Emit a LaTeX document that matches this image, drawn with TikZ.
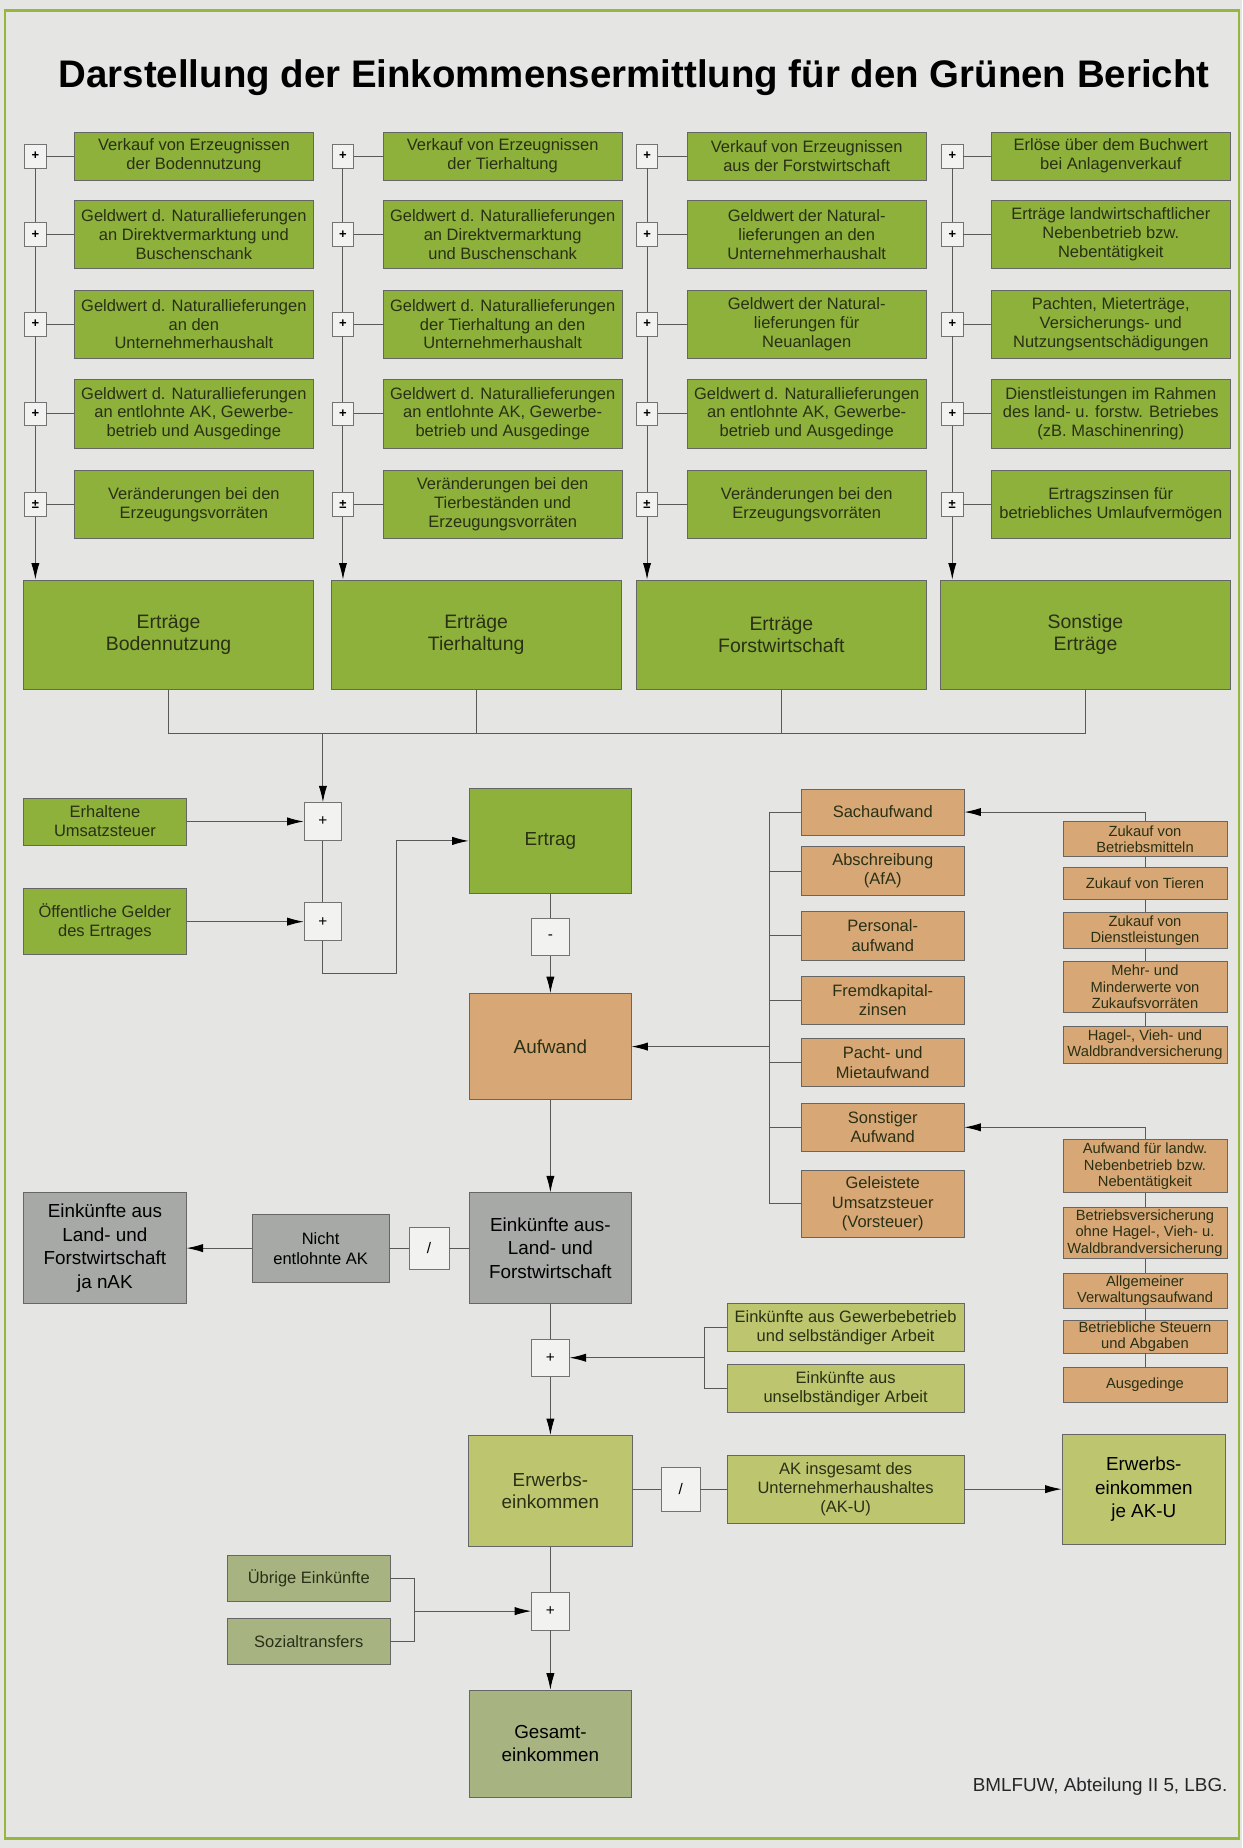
\documentclass[tikz,border=0pt]{standalone}
\usepackage{fontspec}
\setmainfont{Liberation Sans}
\usetikzlibrary{arrows.meta,positioning}

\definecolor{hintergrund}{RGB}{229,229,227}
\definecolor{rahmengruen}{RGB}{150,182,62}
\definecolor{ertraggruen}{RGB}{141,177,58}
\definecolor{aufwandbraun}{RGB}{215,168,118}
\definecolor{lufgrau}{RGB}{166,169,166}
\definecolor{hellolive}{RGB}{189,198,110}
\definecolor{salbei}{RGB}{167,180,130}
\definecolor{opfeld}{RGB}{242,242,240}
\definecolor{kastentext}{RGB}{42,48,22}

\tikzset{
  linie/.style={draw=black!65, line width=0.8pt},
  pfeil/.style={linie, -{Latex[length=14pt,width=7pt,black]}},
  kasten/.style={draw=black!60, line width=0.6pt, align=center, inner sep=1pt, text=kastentext},
  posten/.style={kasten, fill=ertraggruen, minimum width=203pt, minimum height=58pt,
    font=\fontsize{14}{16}\selectfont},
  summe/.style={kasten, fill=ertraggruen, minimum width=246pt, minimum height=93pt,
    font=\fontsize{16.5}{19}\selectfont},
  gruenbox/.style={kasten, fill=ertraggruen, minimum width=138pt,
    font=\fontsize{14}{16}\selectfont},
  braunbox/.style={kasten, fill=aufwandbraun, minimum width=138pt,
    font=\fontsize{14}{16.5}\selectfont},
  kleinbraun/.style={kasten, fill=aufwandbraun, minimum width=139pt,
    font=\fontsize{12.5}{14}\selectfont},
  graubox/.style={kasten, fill=lufgrau, text=black, font=\fontsize{16}{20}\selectfont},
  olivbox/.style={kasten, fill=hellolive, font=\fontsize{14}{16}\selectfont},
  salbeibox/.style={kasten, fill=salbei, font=\fontsize{14}{16}\selectfont},
  opklein/.style={draw=black!55, line width=0.6pt, fill=opfeld, inner sep=0pt,
    minimum width=18pt, minimum height=20pt, font=\fontsize{11}{11}\bfseries},
  opgross/.style={draw=black!55, line width=0.6pt, fill=opfeld, inner sep=0pt,
    minimum width=32pt, minimum height=32pt, font=\fontsize{13}{13}\selectfont}
}

\begin{document}
\begin{tikzpicture}[x=1pt,y=-1pt]
  \useasboundingbox (0,0) rectangle (1054,1568);
  \fill[hintergrund] (0,0) rectangle (1054,1568);
  \draw[rahmengruen, line width=2pt] (4,9) rectangle (1051,1560);

  \node[font=\fontsize{32.6}{36}\bfseries] (titel) at (538,66)
    {Darstellung der Einkommensermittlung für den Grünen Bericht};

  % Ertragsposten
  \node[posten, minimum height=41pt] (b11) at (164.5,132.5) {Verkauf von Erzeugnissen\\der Bodennutzung};
  \node[posten] (b12) at (164.5,199) {Geldwert d. Naturallieferungen\\an Direktvermarktung und\\Buschenschank};
  \node[posten] (b13) at (164.5,275) {Geldwert d. Naturallieferungen\\an den\\Unternehmerhaushalt};
  \node[posten] (b14) at (164.5,351) {Geldwert d. Naturallieferungen\\an entlohnte AK, Gewerbe-\\betrieb und Ausgedinge};
  \node[posten] (b15) at (164.5,428) {Veränderungen bei den\\Erzeugungsvorräten};

  \node[posten, minimum height=41pt] (b21) at (426.5,132.5) {Verkauf von Erzeugnissen\\der Tierhaltung};
  \node[posten] (b22) at (426.5,199) {Geldwert d. Naturallieferungen\\an Direktvermarktung\\und Buschenschank};
  \node[posten] (b23) at (426.5,275) {Geldwert d. Naturallieferungen\\der Tierhaltung an den\\Unternehmerhaushalt};
  \node[posten] (b24) at (426.5,351) {Geldwert d. Naturallieferungen\\an entlohnte AK, Gewerbe-\\betrieb und Ausgedinge};
  \node[posten] (b25) at (426.5,428) {Veränderungen bei den\\Tierbeständen und\\Erzeugungsvorräten};

  \node[posten, minimum height=41pt] (b31) at (684.5,132.5) {Verkauf von Erzeugnissen\\aus der Forstwirtschaft};
  \node[posten] (b32) at (684.5,199) {Geldwert der Natural-\\lieferungen an den\\Unternehmerhaushalt};
  \node[posten] (b33) at (684.5,275) {Geldwert der Natural-\\lieferungen für\\Neuanlagen};
  \node[posten] (b34) at (684.5,351) {Geldwert d. Naturallieferungen\\an entlohnte AK, Gewerbe-\\betrieb und Ausgedinge};
  \node[posten] (b35) at (684.5,428) {Veränderungen bei den\\Erzeugungsvorräten};

  \node[posten, minimum height=41pt] (b41) at (942.5,132.5) {Erlöse über dem Buchwert\\bei  Anlagenverkauf};
  \node[posten] (b42) at (942.5,199) {Erträge landwirtschaftlicher\\Nebenbetrieb bzw.\\Nebentätigkeit};
  \node[posten] (b43) at (942.5,275) {Pachten, Mieterträge,\\Versicherungs- und\\Nutzungsentschädigungen};
  \node[posten] (b44) at (942.5,351) {Dienstleistungen im Rahmen\\des land- u. forstw. Betriebes\\(zB. Maschinenring)};
  \node[posten] (b45) at (942.5,428) {Ertragszinsen für\\betriebliches Umlaufvermögen};

  \node[summe] (e1) at (143,538.5) {Erträge\\Bodennutzung};
  \node[summe] (e2) at (404,538.5) {Erträge\\Tierhaltung};
  \node[summe] (e3) at (663,538.5) {Erträge\\Forstwirtschaft};
  \node[summe] (e4) at (921,538.5) {Sonstige\\Erträge};

  \foreach \c/\x in {1/30,2/291,3/549,4/808}
    \foreach \r/\y/\s in {1/132.5/+,2/199/+,3/275/+,4/351/+,5/428/±}
      \node[opklein] (p\c\r) at (\x,\y) {\s};

  \foreach \c in {1,...,4}{
    \foreach \r in {1,...,5} \draw[linie] (p\c\r) -- (b\c\r);
    \foreach \r/\s in {1/2,2/3,3/4,4/5} \draw[linie] (p\c\r) -- (p\c\s);
    \draw[pfeil] (p\c5) -- (p\c5 |- e\c.north);
  }

  % Ertrag
  \coordinate (sammel) at (274,622);
  \node[opgross] (pa) at (274,697) {+};
  \node[opgross] (pb) at (274,782) {+};
  \node[gruenbox, minimum height=40pt] (ust) at (89,697) {Erhaltene\\Umsatzsteuer};
  \node[gruenbox, minimum height=56pt] (oeg) at (89,782) {Öffentliche Gelder\\des Ertrages};
  \node[gruenbox, minimum height=89pt, font=\fontsize{16}{19}\selectfont] (ertrag) at (467,713.5) {Ertrag};
  \node[opgross] (minus) at (467,795) {-};
  \coordinate (knick) at (336,826);

  \draw[linie] (e1.south) -- (e1.south |- sammel) -- (e4.south |- sammel) -- (e4.south);
  \draw[linie] (e2.south) -- (e2.south |- sammel);
  \draw[linie] (e3.south) -- (e3.south |- sammel);
  \draw[pfeil] (sammel) -- (pa.north);
  \draw[pfeil] (ust) -- (pa);
  \draw[pfeil] (oeg) -- (pb);
  \draw[linie] (pa) -- (pb);
  \draw[pfeil] (pb.south) |- (knick) |- (ertrag.west);
  \draw[linie] (ertrag) -- (minus);

  % Aufwand
  \node[braunbox, minimum width=137pt, minimum height=90pt, font=\fontsize{16}{19}\selectfont] (aufwand) at (467,888) {Aufwand};
  \node[braunbox, minimum height=39pt] (sach) at (749,689) {Sachaufwand};
  \node[braunbox, minimum height=42pt] (afa) at (749,739) {Abschreibung\\(AfA)};
  \node[braunbox, minimum height=42pt] (pers) at (749,794) {Personal-\\aufwand};
  \node[braunbox, minimum height=41pt] (fremd) at (749,848.5) {Fremdkapital-\\zinsen};
  \node[braunbox, minimum height=41pt] (pacht) at (749,901.5) {Pacht- und\\Mietaufwand};
  \node[braunbox, minimum height=41pt] (sonst) at (749,956.5) {Sonstiger\\Aufwand};
  \node[braunbox, minimum height=57pt] (vorst) at (749,1021.5) {Geleistete\\Umsatzsteuer\\(Vorsteuer)};
  \coordinate (aklammer) at (653,888);

  \node[kleinbraun, minimum height=30pt] (z1) at (971.5,712) {Zukauf von\\Betriebsmitteln};
  \node[kleinbraun, minimum height=27pt] (z2) at (971.5,749.5) {Zukauf von Tieren};
  \node[kleinbraun, minimum height=31pt] (z3) at (971.5,789.5) {Zukauf von\\Dienstleistungen};
  \node[kleinbraun, minimum height=43pt] (z4) at (971.5,837.5) {Mehr- und\\Minderwerte von\\Zukaufsvorräten};
  \node[kleinbraun, minimum height=31pt] (z5) at (971.5,886.5) {Hagel-, Vieh- und\\Waldbrandversicherung};
  \coordinate (zklammer) at (971.5,689);

  \node[kleinbraun, minimum height=45pt] (n1) at (971.5,989.5) {Aufwand für landw.\\Nebenbetrieb bzw.\\Nebentätigkeit};
  \node[kleinbraun, minimum height=44pt] (n2) at (971.5,1046) {Betriebsversicherung\\ohne Hagel-, Vieh- u.\\Waldbrandversicherung};
  \node[kleinbraun, minimum height=30pt] (n3) at (971.5,1095) {Allgemeiner\\Verwaltungsaufwand};
  \node[kleinbraun, minimum height=28pt] (n4) at (971.5,1134) {Betriebliche Steuern\\und Abgaben};
  \node[kleinbraun, minimum height=30pt] (n5) at (971.5,1175) {Ausgedinge};
  \coordinate (nklammer) at (971.5,956.5);

  \draw[pfeil] (minus) -- (aufwand);
  \draw[linie] (sach.west) -- (sach.west -| aklammer) -- (vorst.west -| aklammer) -- (vorst.west);
  \foreach \k in {afa,pers,fremd,pacht,sonst}
    \draw[linie] (\k.west) -- (\k.west -| aklammer);
  \draw[pfeil] (aklammer) -- (aufwand.east);
  \draw[linie] (z1.north) -- (zklammer);
  \draw[pfeil] (zklammer) -- (sach.east);
  \foreach \a/\b in {z1/z2,z2/z3,z3/z4,z4/z5,n1/n2,n2/n3,n3/n4,n4/n5}
    \draw[linie] (\a) -- (\b);
  \draw[linie] (n1.north) -- (nklammer);
  \draw[pfeil] (nklammer) -- (sonst.east);

  % Einkuenfte
  \node[graubox, minimum width=138pt, minimum height=94pt] (luf) at (467,1059) {Einkünfte aus-\\Land- und\\Forstwirtschaft};
  \node[opgross, minimum width=34pt, minimum height=36pt] (div1) at (364,1059) {/};
  \node[graubox, minimum width=116pt, minimum height=58pt, font=\fontsize{14}{17}\selectfont] (nak) at (272,1059) {Nicht\\entlohnte AK};
  \node[graubox, minimum width=138pt, minimum height=94pt] (lufnak) at (89,1059) {Einkünfte aus\\Land- und\\Forstwirtschaft\\ja nAK};
  \node[opgross] (pc) at (467,1152) {+};
  \node[olivbox, minimum width=201pt, minimum height=41pt] (gew) at (717.5,1126.5) {Einkünfte aus Gewerbebetrieb\\und selbständiger Arbeit};
  \node[olivbox, minimum width=201pt, minimum height=40pt] (unselb) at (717.5,1178) {Einkünfte aus\\unselbständiger Arbeit};
  \coordinate (eklammer) at (598,1152);

  \draw[pfeil] (aufwand) -- (luf);
  \draw[linie] (luf) -- (div1);
  \draw[linie] (div1) -- (nak);
  \draw[pfeil] (nak) -- (lufnak);
  \draw[linie] (luf) -- (pc);
  \draw[linie] (gew.west) -- (gew.west -| eklammer) -- (unselb.west -| eklammer) -- (unselb.west);
  \draw[pfeil] (eklammer) -- (pc.east);

  % Erwerbseinkommen
  \node[olivbox, minimum width=139pt, minimum height=94pt, font=\fontsize{16}{19}\selectfont] (erw) at (467,1265) {Erwerbs-\\einkommen};
  \node[opgross, minimum width=33pt, minimum height=37pt] (div2) at (577.5,1263.5) {/};
  \node[olivbox, minimum width=201pt, minimum height=58pt] (aku) at (717.5,1263.5) {AK insgesamt des\\Unternehmerhaushaltes\\(AK-U)};
  \node[olivbox, minimum width=139pt, minimum height=93pt, text=black, font=\fontsize{16}{20}\selectfont] (erwaku) at (970.5,1263.5) {Erwerbs-\\einkommen\\je AK-U};

  \draw[pfeil] (pc) -- (erw);
  \draw[linie] (erw.east |- div2) -- (div2);
  \draw[linie] (div2) -- (aku);
  \draw[pfeil] (aku) -- (erwaku);

  % Gesamteinkommen
  \node[opgross] (pd) at (467,1367) {+};
  \node[salbeibox, minimum width=138pt, minimum height=39pt] (uebrig) at (262,1339.5) {Übrige Einkünfte};
  \node[salbeibox, minimum width=138pt, minimum height=39pt] (sozial) at (262,1392.5) {Sozialtransfers};
  \node[salbeibox, minimum width=138pt, minimum height=91pt, text=black, font=\fontsize{16}{20}\selectfont] (gesamt) at (467,1479.5) {Gesamt-\\einkommen};
  \coordinate (sklammer) at (352,1367);

  \draw[linie] (erw) -- (pd);
  \draw[linie] (uebrig.east) -- (uebrig.east -| sklammer) -- (sozial.east -| sklammer) -- (sozial.east);
  \draw[pfeil] (sklammer) -- (pd.west);
  \draw[pfeil] (pd) -- (gesamt);

  \node[anchor=east, font=\fontsize{16}{18}\selectfont, text=black!85] (quelle) at (1045,1516) {BMLFUW, Abteilung II 5, LBG.};
\end{tikzpicture}
\end{document}
